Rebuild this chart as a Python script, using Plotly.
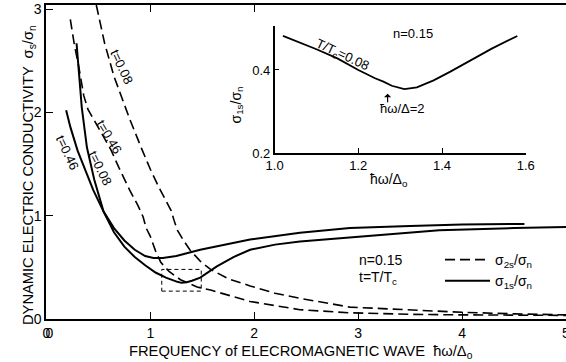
import plotly.graph_objects as go

# ---------------- data ----------------
# sigma_1s / sigma_n, t = 0.46 (solid)
s1_t046_x = [0.19, 0.23, 0.30, 0.36, 0.45, 0.55, 0.65, 0.75, 0.85, 0.95, 1.03, 1.12, 1.25, 1.48, 1.96, 2.44, 2.92, 3.5, 4.0, 4.6]
s1_t046_y = [2.02, 1.86, 1.63, 1.47, 1.25, 1.04, 0.88, 0.76, 0.67, 0.61, 0.59, 0.59, 0.61, 0.67, 0.77, 0.835, 0.88, 0.90, 0.915, 0.92]

# sigma_1s / sigma_n, t = 0.08 (solid)
s1_t008_x = [0.29, 0.31, 0.34, 0.39, 0.46, 0.55, 0.65, 0.75, 0.85, 0.95, 1.05, 1.15, 1.22, 1.26, 1.30, 1.35, 1.40, 1.48, 1.64, 1.80, 1.96, 2.2, 2.44, 2.92, 3.5, 3.78, 4.5, 5.0]
s1_t008_y = [2.67, 2.40, 2.05, 1.66, 1.35, 1.04, 0.84, 0.70, 0.60, 0.52, 0.45, 0.40, 0.37, 0.36, 0.35, 0.355, 0.37, 0.40, 0.51, 0.60, 0.67, 0.72, 0.75, 0.79, 0.84, 0.86, 0.88, 0.89]

# sigma_2s / sigma_n, t = 0.08 (dashed)
s2_t008_x = [0.48, 0.56, 0.65, 0.72, 0.80, 0.92, 1.0, 1.08, 1.15, 1.20, 1.23, 1.26, 1.32, 1.38, 1.48, 1.58, 1.75, 1.96, 2.2, 2.44, 2.92, 3.5, 4.0, 4.5, 5.0]
s2_t008_y = [3.04, 2.67, 2.35, 2.15, 1.94, 1.64, 1.45, 1.28, 1.15, 1.05, 0.95, 0.86, 0.76, 0.67, 0.56, 0.48, 0.39, 0.32, 0.25, 0.20, 0.115, 0.085, 0.065, 0.05, 0.04]

# sigma_2s / sigma_n, t = 0.46 (dashed)
s2_t046_x = [0.23, 0.27, 0.31, 0.36, 0.40, 0.50, 0.62, 0.70, 0.80, 0.88, 0.93, 0.96, 1.0, 1.05, 1.10, 1.18, 1.29, 1.45, 1.58, 1.96, 2.44, 2.92, 3.5, 4.0, 5.0]
s2_t046_y = [2.90, 2.65, 2.45, 2.16, 2.03, 1.85, 1.64, 1.46, 1.25, 1.10, 0.99, 0.88, 0.80, 0.66, 0.55, 0.46, 0.38, 0.31, 0.28, 0.17, 0.09, 0.06, 0.045, 0.04, 0.035]

# inset: sigma_1s / sigma_n at T/Tc = 0.08
inset_x = [1.02, 1.06, 1.10, 1.15, 1.20, 1.24, 1.26, 1.28, 1.31, 1.34, 1.38, 1.42, 1.47, 1.52, 1.58]
inset_y = [0.482, 0.466, 0.450, 0.428, 0.400, 0.380, 0.372, 0.362, 0.354, 0.358, 0.375, 0.396, 0.425, 0.452, 0.482]

main_xticks = [0, 1, 2, 3, 4, 5]
main_yticks = [0, 1, 2, 3]
top_xticks = [1, 2]
inset_xticks = [1.0, 1.2, 1.4, 1.6]
inset_xticklabels = ["1.0", "1.2", "1.4", "1.6"]
inset_yticks = [0.2, 0.4]
inset_yticklabels = ["0.2", "0.4"]

zoom_box = dict(x0=1.11, x1=1.49, y0=0.27, y1=0.48)
arrow_x = 1.27
XR = [-0.004, 5.0]

FONT = "Liberation Sans"
BLK = "black"
DASH = "10px,5px"

fig = go.Figure()

fig.add_trace(go.Scatter(x=s2_t008_x, y=s2_t008_y, mode="lines",
                         line=dict(color=BLK, width=1.6, dash=DASH),
                         name="σ<sub>2s</sub>/σ<sub>n</sub>", showlegend=True))
fig.add_trace(go.Scatter(x=s2_t046_x, y=s2_t046_y, mode="lines",
                         line=dict(color=BLK, width=1.6, dash=DASH),
                         name="σ2s t=0.46", showlegend=False))
fig.add_trace(go.Scatter(x=s1_t046_x, y=s1_t046_y, mode="lines",
                         line=dict(color=BLK, width=2),
                         name="σ<sub>1s</sub>/σ<sub>n</sub>", showlegend=True))
fig.add_trace(go.Scatter(x=s1_t008_x, y=s1_t008_y, mode="lines",
                         line=dict(color=BLK, width=2),
                         name="σ1s t=0.08", showlegend=False))
fig.add_trace(go.Scatter(x=inset_x, y=inset_y, mode="lines",
                         line=dict(color=BLK, width=1.8),
                         xaxis="x3", yaxis="y3", showlegend=False))
# invisible helper traces so the overlay axes (top ticks, "0" label) are drawn
for xa in ("x2", "x4"):
    fig.add_trace(go.Scatter(x=s1_t008_x, y=s1_t008_y, mode="lines", xaxis=xa,
                             line=dict(color="rgba(0,0,0,0)", width=0),
                             hoverinfo="skip", showlegend=False))

axis_common = dict(showgrid=False, zeroline=False, showline=True, linecolor=BLK,
                   linewidth=1.5, ticks="inside", tickcolor=BLK, tickwidth=1.3,
                   automargin=False, ticklabeloverflow="allow",
                   tickfont=dict(family=FONT, size=14, color=BLK))
inset_common = {**axis_common, "tickfont": dict(family=FONT, size=13, color=BLK)}

# inset domain (paper, relative to plot area)
ix0 = (274.6 - 46) / 520
ix1 = (525.7 - 46) / 520
iy0 = (319 - 153) / 314
iy1 = (319 - 26) / 314

fig.update_layout(
    template="none",
    width=566, height=362,
    margin=dict(l=46, r=0, t=5, b=43, autoexpand=False),
    paper_bgcolor="white", plot_bgcolor="white",
    font=dict(family=FONT, color=BLK, size=14),
    xaxis=dict(range=XR, tickvals=main_xticks, ticklen=7, mirror=True, **axis_common),
    yaxis=dict(range=[0, 3.04], tickvals=main_yticks, ticklen=7, **axis_common),
    xaxis2=dict(overlaying="x", side="top", anchor="y", range=XR, tickvals=top_xticks,
                ticks="inside", ticklen=7, tickcolor=BLK, tickwidth=1.3, automargin=False,
                showticklabels=False, showgrid=False, zeroline=False, showline=False),
    xaxis4=dict(overlaying="x", side="bottom", anchor="y", range=XR, tickvals=[0],
                ticks="", automargin=False, ticklabeloverflow="allow",
                ticklabelshift=3, ticklabelstandoff=4,
                tickfont=dict(family=FONT, size=14, color=BLK),
                showticklabels=True, showgrid=False, zeroline=False, showline=False),
    xaxis3=dict(domain=[ix0, ix1], anchor="y3", range=[1.0, 1.6],
                tickvals=inset_xticks, ticktext=inset_xticklabels, ticklen=5, **inset_common),
    yaxis3=dict(domain=[iy0, iy1], anchor="x3", range=[0.2, 0.506],
                tickvals=inset_yticks, ticktext=inset_yticklabels, ticklen=5, **inset_common),
    legend=dict(x=(440 - 46) / 520, y=(319 - 244) / 314, xanchor="left", yanchor="top",
                bgcolor="rgba(0,0,0,0)", borderwidth=0,
                font=dict(family=FONT, size=14, color=BLK),
                tracegroupgap=0, itemwidth=45),
    showlegend=True,
)

fig.add_shape(type="rect", xref="x", yref="y", **zoom_box,
              line=dict(color=BLK, width=1, dash="4px,3px"))

ann = []
def lab(text, x, y, angle=0, size=13, xref="x", yref="y", **kw):
    ann.append(dict(text=text, x=x, y=y, xref=xref, yref=yref, showarrow=False,
                    textangle=angle, font=dict(family=FONT, size=size, color=BLK), **kw))

# rotated curve labels (main)
lab("t=0.08", 0.72, 2.44, 65)
lab("t=0.46", 0.61, 1.76, 59)
lab("t=0.08", 0.52, 1.46, 64)
lab("t=0.46", 0.20, 1.61, 65)
# legend side text
lab("n=0.15", 2.99, 0.574, 0, 14, xanchor="left")
lab("t=T/T<sub>c</sub>", 2.99, 0.40, 0, 14, xanchor="left")
# inset labels
lab("n=0.15", 1.33, 0.489, 0, 13, xref="x3", yref="y3")
lab("T/T<sub>c</sub>=0.08", 1.163, 0.436, 25, 13, xref="x3", yref="y3")
lab("ħω/Δ=2", 1.305, 0.308, 0, 13, xref="x3", yref="y3")
ann.append(dict(text="", x=arrow_x, y=0.343, xref="x3", yref="y3", ax=0, ay=10,
                showarrow=True, arrowhead=1, arrowsize=1, arrowwidth=1.2, arrowcolor=BLK))
# inset axis titles
lab("σ<sub>1s</sub>/σ<sub>n</sub>", (236 - 46) / 520, (319 - 85) / 314, -90, 14, xref="paper", yref="paper")
lab("ħω/Δ<sub>o</sub>", (410 - 46) / 520, (319 - 180) / 314, 0, 14, xref="paper", yref="paper")
# main axis titles
lab("FREQUENCY of ELECROMAGNETIC WAVE  ħω/Δ<sub>o</sub>", (301 - 46) / 520, (319 - 341) / 314, 0, 14.7,
    xref="paper", yref="paper", yanchor="top")
lab("DYNAMIC ELECTRIC CONDUCTIVITY  σ<sub>s</sub>/σ<sub>n</sub>", (18 - 46) / 520, (319 - 175) / 314, -90, 14.7,
    xref="paper", yref="paper")

fig.update_layout(annotations=ann)

fig.write_html("out.html")
